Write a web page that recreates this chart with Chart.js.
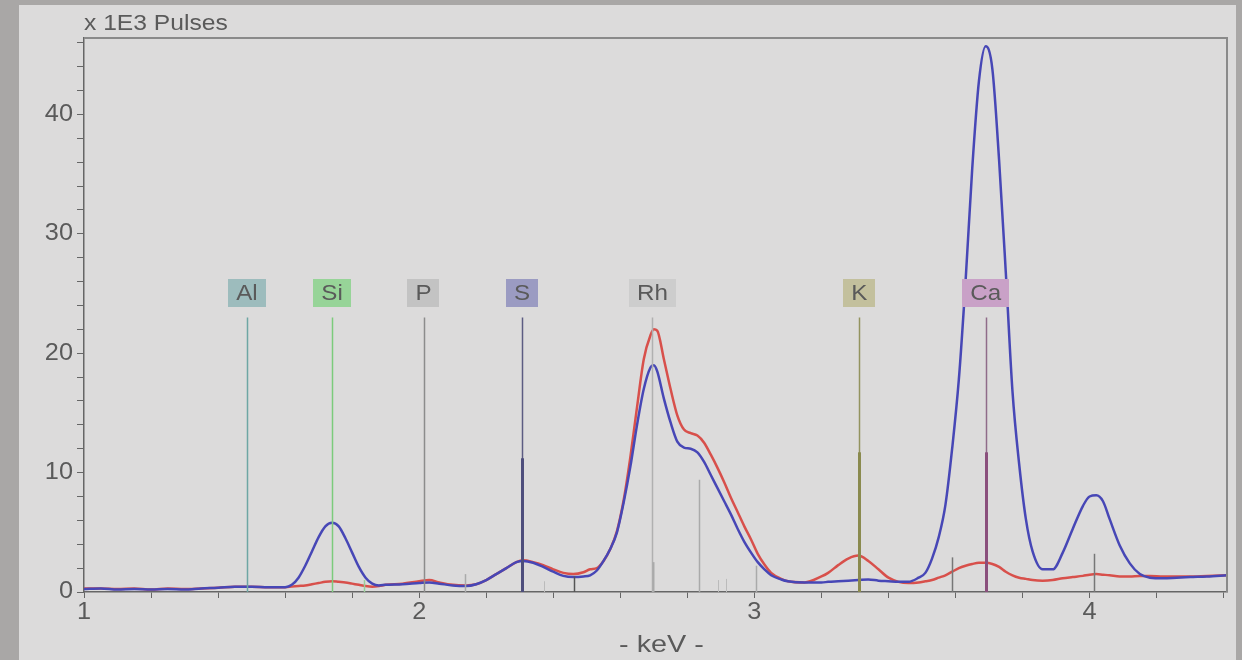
<!DOCTYPE html>
<html>
<head>
<meta charset="utf-8">
<script src="https://cdn.jsdelivr.net/npm/chart.js@4/dist/chart.umd.min.js"></script>
<style>
  html, body { margin: 0; padding: 0; width: 1242px; height: 660px; overflow: hidden; background: #a9a7a6; }
  #panel { position: absolute; left: 19px; top: 5px; width: 1217px; height: 655px; background: #dcdbdb; }
</style>
</head>
<body>
<div id="panel"><canvas id="spectrum" width="1217" height="655"></canvas></div>
<script>
// energies in keV, counts in x 1E3 pulses
const energies = [1.00, 1.05, 1.10, 1.15, 1.20, 1.25, 1.30, 1.35, 1.40, 1.45, 1.50, 1.55, 1.60,
  1.62, 1.64, 1.66, 1.68, 1.70, 1.72, 1.74, 1.76, 1.78, 1.80, 1.82, 1.84, 1.86, 1.88, 1.90, 1.95,
  2.00, 2.03, 2.06, 2.10, 2.14, 2.17, 2.20, 2.23, 2.26, 2.29, 2.31, 2.34, 2.37, 2.40, 2.43, 2.46,
  2.49, 2.51, 2.53, 2.55, 2.57, 2.59, 2.61, 2.63, 2.65, 2.67, 2.69, 2.70, 2.71, 2.73, 2.75, 2.77,
  2.79, 2.81, 2.83, 2.85, 2.87, 2.89, 2.91, 2.93, 2.95, 2.97, 2.99, 3.01, 3.03, 3.05, 3.08, 3.10,
  3.15, 3.20, 3.22, 3.25, 3.28, 3.31, 3.34, 3.37, 3.40, 3.43, 3.46, 3.49, 3.51, 3.53, 3.55, 3.57,
  3.59, 3.61, 3.63, 3.65, 3.67, 3.69, 3.71, 3.73, 3.75, 3.77, 3.79, 3.81, 3.83, 3.86, 3.89, 3.92,
  3.95, 3.98, 4.00, 4.02, 4.04, 4.06, 4.09, 4.12, 4.15, 4.18, 4.22, 4.26, 4.30, 4.35, 4.41];

const blueCounts = [0.25, 0.3, 0.2, 0.25, 0.2, 0.25, 0.2, 0.3, 0.35, 0.45, 0.45, 0.4, 0.4,
  0.6, 1.2, 2.2, 3.4, 4.6, 5.5, 5.8, 5.5, 4.5, 3.3, 2.1, 1.2, 0.7, 0.55, 0.6, 0.65,
  0.75, 0.8, 0.7, 0.55, 0.5, 0.65, 1.0, 1.5, 2.0, 2.5, 2.6, 2.45, 2.1, 1.7, 1.35, 1.25,
  1.3, 1.4, 1.8, 2.6, 3.6, 5.0, 7.5, 10.5, 14.0, 17.0, 18.8, 19.0, 18.5, 16.2, 14.2, 12.6,
  12.1, 12.0, 11.7, 10.9, 9.8, 8.7, 7.6, 6.5, 5.3, 4.2, 3.3, 2.5, 1.9, 1.4, 1.05, 0.9,
  0.8, 0.8, 0.85, 0.9, 0.95, 1.0, 1.05, 0.95, 0.9, 0.85, 0.85, 1.2, 1.6, 2.8, 4.6, 7.3,
  12.0, 17.8, 26.0, 35.5, 42.8, 45.7, 43.8, 36.2, 26.8, 16.8, 10.7, 6.1, 3.4, 1.9, 1.9, 3.3,
  5.3, 7.2, 8.0, 8.1, 7.6, 6.1, 3.9, 2.4, 1.5, 1.2, 1.15, 1.2, 1.25, 1.3, 1.4];

const redCounts = [0.3, 0.3, 0.25, 0.3, 0.2, 0.3, 0.25, 0.3, 0.35, 0.45, 0.45, 0.4, 0.4,
  0.45, 0.5, 0.55, 0.65, 0.75, 0.85, 0.9, 0.85, 0.8, 0.7, 0.6, 0.5, 0.45, 0.5, 0.6, 0.7,
  0.9, 1.0, 0.8, 0.6, 0.55, 0.65, 1.0, 1.5, 2.0, 2.5, 2.65, 2.5, 2.25, 1.9, 1.6, 1.5,
  1.65, 1.9, 2.0, 2.6, 3.6, 5.1, 7.7, 11.3, 15.5, 19.5, 21.5, 22.0, 21.9, 19.5, 17.0, 14.8,
  13.6, 13.3, 13.1, 12.5, 11.5, 10.4, 9.2, 7.9, 6.7, 5.5, 4.4, 3.2, 2.3, 1.6, 1.1, 0.9,
  0.8, 1.3, 1.6, 2.25, 2.8, 3.05, 2.6, 1.9, 1.2, 0.85, 0.75, 0.8, 0.9, 1.0, 1.2, 1.4,
  1.7, 2.0, 2.2, 2.35, 2.45, 2.45, 2.35, 2.1, 1.7, 1.4, 1.2, 1.1, 1.0, 0.95, 1.0, 1.15,
  1.25, 1.35, 1.45, 1.5, 1.45, 1.4, 1.3, 1.3, 1.35, 1.35, 1.3, 1.3, 1.3, 1.35, 1.4];

const xTickLabels = [1, 2, 3, 4];
const yTickLabels = [0, 10, 20, 30, 40];

// identified elements
const elementNames = ["Al", "Si", "P", "S", "Rh", "K", "Ca"];
const elementKeV = [1.486, 1.740, 2.013, 2.307, 2.696, 3.313, 3.690];
const elementBoxColors = ["#9dbcbd", "#97d498", "#c3c3c3", "#9b9bc2", "#cdcdcd", "#c3c09d", "#c9a1c7"];
const elementLineColors = ["#6ea6a4", "#7ccb7c", "#8c8c8c", "#5c5c82", "#b0b0b0", "#93935f", "#8f6b89"];

// line markers (relative intensities)
const stickKeV = [2.307, 3.313, 3.690, 2.463, 2.697, 2.836, 3.005, 3.591, 4.012, 2.137, 1.836, 2.373, 2.89, 2.916];
const stickHeights = [11.2, 11.7, 11.7, 1.3, 2.5, 9.4, 2.2, 2.9, 3.2, 1.5, 1.0, 0.9, 1.0, 1.1];
const stickColors = ["#4e4e7c", "#8a8a4e", "#8a4f7c", "#555555", "#aaaaaa", "#aaaaaa", "#aaaaaa",
  "#777777", "#777777", "#aaaaaa", "#99cc99", "#bbbbbb", "#bbbbbb", "#bbbbbb"];
const stickWidths = [3, 3, 3, 1.5, 2, 1.5, 1.5, 1.5, 1.5, 1.5, 1.5, 1, 1, 1];

const textColor = "#5a5a5a";
const fontFamily = "'Liberation Sans', Arial, sans-serif";

function isWhole(v, list) {
  return list.some(t => Math.abs(v - t) < 1e-6);
}

// the original text is a bit wider than Arial, so stretch it horizontally
function wideText(ctx, text, x, y, size, stretch, align) {
  ctx.save();
  ctx.font = size + "px " + fontFamily;
  const w = ctx.measureText(text).width * stretch;
  let left = x;
  if (align === "center") left = x - w / 2;
  if (align === "right") left = x - w;
  ctx.translate(left, y);
  ctx.scale(stretch, 1);
  ctx.textAlign = "left";
  ctx.fillText(text, 0, 0);
  ctx.restore();
  return w;
}

const markerPlugin = {
  id: "markers",
  afterDatasetsDraw(chart) {
    const { ctx, scales: { x, y } } = chart;
    ctx.save();

    elementKeV.forEach((e, i) => {
      const px = Math.round(x.getPixelForValue(e)) + 0.5;
      ctx.strokeStyle = elementLineColors[i];
      ctx.lineWidth = 1.5;
      ctx.beginPath();
      ctx.moveTo(px, y.getPixelForValue(23));
      ctx.lineTo(px, y.getPixelForValue(0));
      ctx.stroke();
    });

    stickKeV.forEach((e, i) => {
      const px = Math.round(x.getPixelForValue(e)) + 0.5;
      ctx.strokeStyle = stickColors[i];
      ctx.lineWidth = stickWidths[i];
      ctx.beginPath();
      ctx.moveTo(px, y.getPixelForValue(stickHeights[i]));
      ctx.lineTo(px, y.getPixelForValue(0));
      ctx.stroke();
    });

    ctx.font = "22px " + fontFamily;
    ctx.textBaseline = "middle";
    elementNames.forEach((name, i) => {
      const px = x.getPixelForValue(elementKeV[i]);
      const w = ctx.measureText(name).width * 1.1 + 16;
      const top = y.getPixelForValue(26.2);
      ctx.fillStyle = elementBoxColors[i];
      ctx.fillRect(Math.round(px - w / 2), Math.round(top), Math.round(w), 28);
      ctx.fillStyle = textColor;
      wideText(ctx, name, px, top + 15, 22, 1.1, "center");
    });
    ctx.restore();
  },
  afterDraw(chart) {
    const { ctx, chartArea, scales: { x, y } } = chart;
    ctx.save();
    ctx.strokeStyle = "#8a8a8a";
    ctx.lineWidth = 2;
    ctx.beginPath();
    ctx.moveTo(chartArea.left, chartArea.top);
    ctx.lineTo(chartArea.right, chartArea.top);
    ctx.lineTo(chartArea.right, chartArea.bottom);
    ctx.stroke();

    ctx.fillStyle = textColor;
    ctx.textBaseline = "middle";
    xTickLabels.forEach(v => {
      wideText(ctx, String(v), x.getPixelForValue(v), chartArea.bottom + 21, 23, 1.1, "center");
    });
    yTickLabels.forEach(v => {
      wideText(ctx, String(v), chartArea.left - 11, y.getPixelForValue(v), 23, 1.1, "right");
    });

    ctx.textBaseline = "alphabetic";
    wideText(ctx, "x 1E3 Pulses", chartArea.left, 25, 22, 1.12, "left");
    ctx.textBaseline = "middle";
    wideText(ctx, "- keV -", (chartArea.left + chartArea.right) / 2 + 6, 640, 24, 1.2, "center");
    ctx.restore();
  }
};

const ctx = document.getElementById("spectrum").getContext("2d");

const chart = new Chart(ctx, {
  type: "line",
  data: {
    datasets: [
      {
        label: "Sample 1",
        data: energies.map((e, i) => ({ x: e, y: blueCounts[i] })),
        borderColor: "#4747b6",
        borderWidth: 2.5,
        pointRadius: 0,
        cubicInterpolationMode: "monotone",
      },
      {
        label: "Sample 2",
        data: energies.map((e, i) => ({ x: e, y: redCounts[i] })),
        borderColor: "#d8504b",
        borderWidth: 2.5,
        pointRadius: 0,
        cubicInterpolationMode: "monotone",
      },
    ],
  },
  options: {
    responsive: false,
    animation: false,
    layout: { padding: { top: 33, right: 9, left: 0, bottom: 0 } },
    scales: {
      x: {
        type: "linear",
        min: 1,
        max: 4.41,
        afterFit: s => { s.height = 68; },
        border: { display: true, color: "#666", width: 1.5 },
        grid: { drawOnChartArea: false, tickLength: 6, color: "#666" },
        ticks: {
          stepSize: 0.2,
          includeBounds: false,
          autoSkip: false,
          maxRotation: 0,
          callback: () => "",
        },
      },
      y: {
        min: 0,
        max: 46.4,
        afterFit: s => { s.width = 65; },
        border: { display: true, color: "#666", width: 1.5 },
        grid: { drawOnChartArea: false, tickLength: 7, color: "#666" },
        ticks: {
          stepSize: 2,
          includeBounds: false,
          autoSkip: false,
          callback: () => "",
        },
      },
    },
    plugins: {
      legend: { display: false },
      tooltip: { enabled: false },
    },
  },
  plugins: [markerPlugin],
});
</script>
</body>
</html>
